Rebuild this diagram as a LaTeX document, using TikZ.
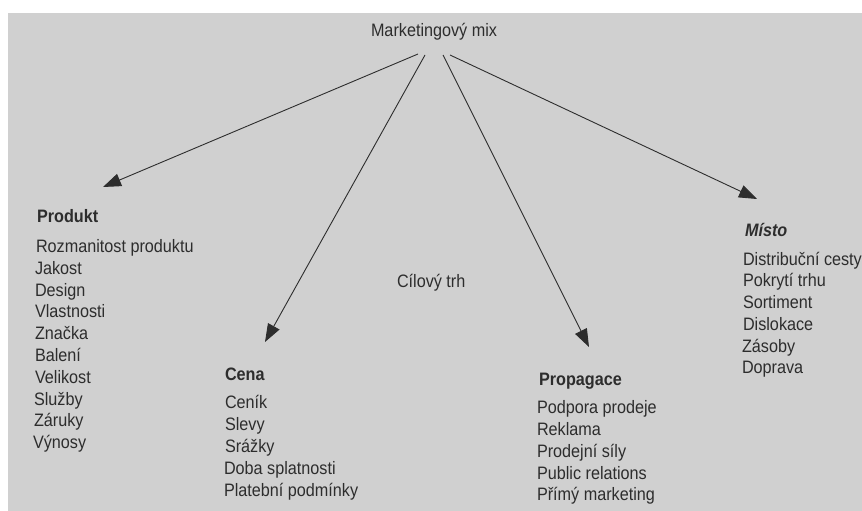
\documentclass[tikz,border=0pt]{standalone}
\usepackage{fontspec}
\setmainfont[FakeStretch=0.9]{Liberation Sans}
\usetikzlibrary{arrows.meta}
\definecolor{bgpaper}{RGB}{208,208,208}
\definecolor{ink}{RGB}{45,45,45}
\tikzset{
  x=1pt, y=-1pt,
  txt/.style={anchor=base west, inner sep=0pt, outer sep=0pt, text=ink,
    font=\fontsize{18}{21}\selectfont},
  head/.style={txt, font=\fontsize{18}{21}\selectfont\bfseries},
  conn/.style={draw=ink, line width=0.9pt,
    -{Triangle[length=18pt,width=13pt]}}
}
\begin{document}
\begin{tikzpicture}
\useasboundingbox (0,0) rectangle (862,511);
\fill[white] (0,0) rectangle (862,511);
\fill[bgpaper] (8,13) rectangle (862,511);

% title
\node[txt] (mix) at (371,37) {Marketingový mix};
\coordinate (s1) at (418,54);
\coordinate (s2) at (425,55);
\coordinate (s3) at (443,55);
\coordinate (s4) at (450,55);

% Produkt
\node[head] (prod) at (37,222) {Produkt};
\node[txt] (p1) at (36,252) {Rozmanitost produktu};
\node[txt] (p2) at (35,274) {Jakost};
\node[txt] (p3) at (35,296) {Design};
\node[txt] (p4) at (35,317) {Vlastnosti};
\node[txt] (p5) at (35,339) {Značka};
\node[txt] (p6) at (35,361) {Balení};
\node[txt] (p7) at (35,383) {Velikost};
\node[txt] (p8) at (34,405) {Služby};
\node[txt] (p9) at (34,426) {Záruky};
\node[txt] (p10) at (33,448) {Výnosy};
\coordinate (e1) at (103,187);

% Cena
\node[head] (cena) at (225,380) {Cena};
\node[txt] (c1) at (225,408) {Ceník};
\node[txt] (c2) at (225,430) {Slevy};
\node[txt] (c3) at (225,452) {Srážky};
\node[txt] (c4) at (224,474) {Doba splatnosti};
\node[txt] (c5) at (224,496) {Platební podmínky};
\coordinate (e2) at (265,342);

% Cilovy trh
\node[txt] (cil) at (397,287) {Cílový trh};

% Propagace
\node[head] (prop) at (539,385) {Propagace};
\node[txt] (g1) at (537,413) {Podpora prodeje};
\node[txt] (g2) at (537,435) {Reklama};
\node[txt] (g3) at (537,457) {Prodejní síly};
\node[txt] (g4) at (537,479) {Public relations};
\node[txt] (g5) at (537,500) {Přímý marketing};
\coordinate (e3) at (589,347);

% Misto
\node[head, font=\fontsize{18}{21}\selectfont\bfseries\itshape] (misto) at (745,236) {Místo};
\node[txt] (m1) at (743,265) {Distribuční cesty};
\node[txt] (m2) at (743,286) {Pokrytí trhu};
\node[txt] (m3) at (743,308) {Sortiment};
\node[txt] (m4) at (743,330) {Dislokace};
\node[txt] (m5) at (742,352) {Zásoby};
\node[txt] (m6) at (742,373) {Doprava};
\coordinate (e4) at (757,199);

\draw[conn] (s1) -- (e1);
\draw[conn] (s2) -- (e2);
\draw[conn] (s3) -- (e3);
\draw[conn] (s4) -- (e4);
\end{tikzpicture}
\end{document}
